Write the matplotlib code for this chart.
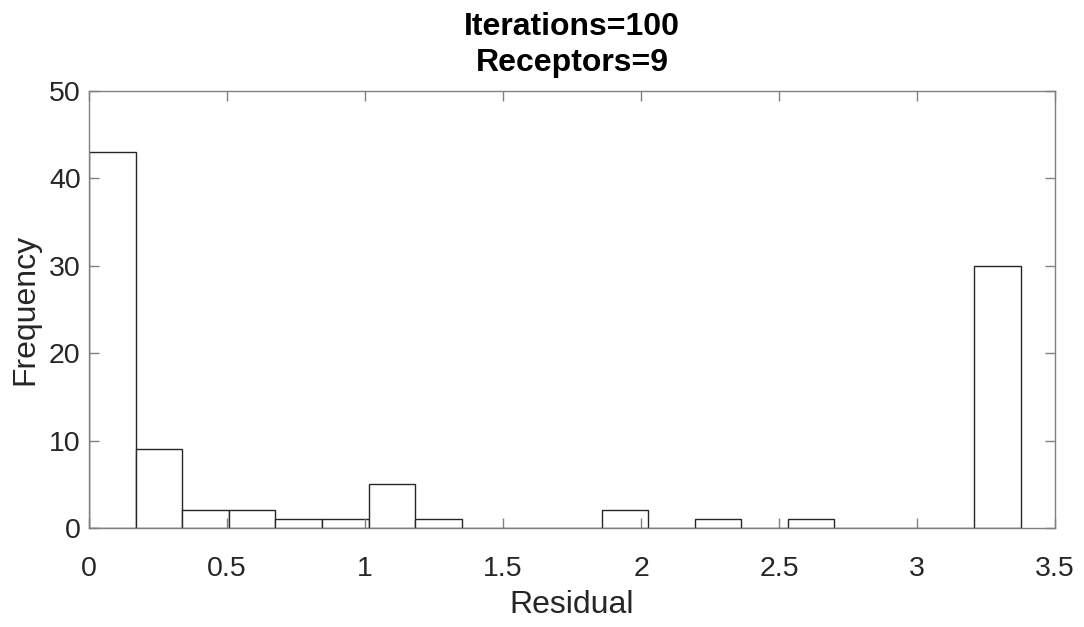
import numpy as np
import matplotlib.pyplot as plt

# Histogram of residuals (20 equal-width bins)
bin_width = 0.1688
counts = [43, 9, 2, 2, 1, 1, 5, 1, 0, 0, 0, 2, 0, 1, 0, 1, 0, 0, 0, 30]
x_ticks = [0, 0.5, 1, 1.5, 2, 2.5, 3, 3.5]
x_tick_labels = ['0', '0.5', '1', '1.5', '2', '2.5', '3', '3.5']
y_ticks = [0, 10, 20, 30, 40, 50]

plt.rcParams['font.family'] = ['Liberation Sans', 'DejaVu Sans']

fig = plt.figure(figsize=(10.84, 6.27), dpi=100)
ax = fig.add_axes([0.0821, 0.158, 0.8912, 0.697])

left_edges = np.arange(len(counts)) * bin_width
ax.bar(left_edges, counts, width=bin_width, align='edge',
       facecolor='white', edgecolor='#262626', linewidth=1.0)

ax.set_xlim(0, 3.5)
ax.set_ylim(0, 50)
ax.set_xticks(x_ticks)
ax.set_xticklabels(x_tick_labels)
ax.set_yticks(y_ticks)

ax.tick_params(direction='in', length=7, width=1.0, color='#808080',
               labelsize=20.5, labelcolor='#262626', top=True, right=True)
ax.tick_params(axis='x', pad=20)
ax.tick_params(axis='y', pad=6)
for s in ax.spines.values():
    s.set_color('#808080')
    s.set_linewidth(1.0)

ax.set_xlabel('Residual', fontsize=23, color='#262626', labelpad=6)
ax.set_ylabel('Frequency', fontsize=23, color='#262626', labelpad=6)
ax.set_title('Iterations=100\nReceptors=9', fontsize=23, fontweight='bold',
             linespacing=1.3, pad=14)

plt.savefig('out.png', dpi=100)
